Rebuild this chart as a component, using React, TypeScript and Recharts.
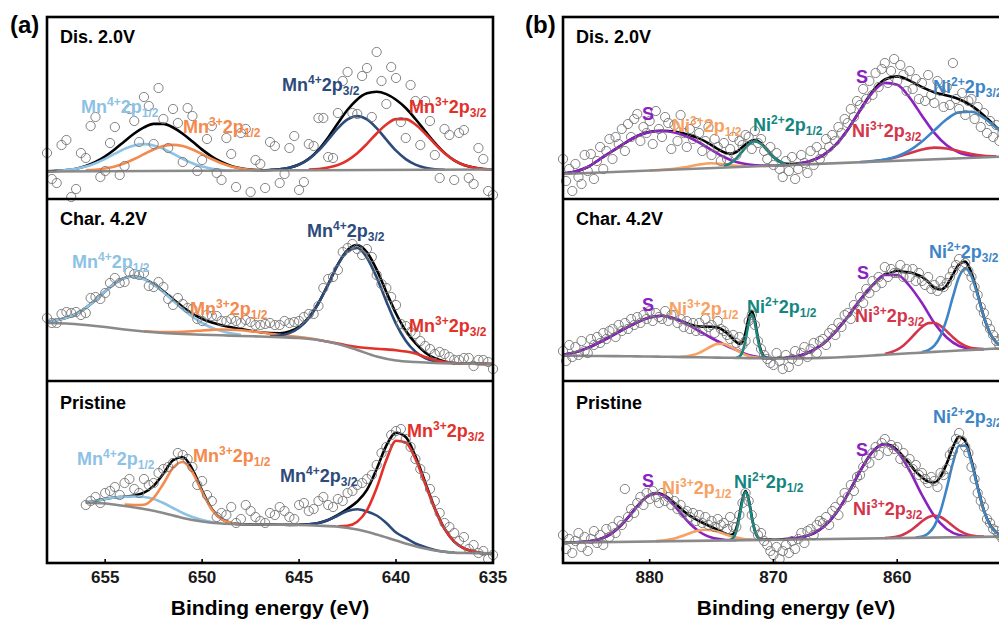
import React from 'react'
import { ComposedChart, Line, Scatter, XAxis, YAxis } from 'recharts'

type Pt = { x: number; y: number }
const seg = (from: number, step: number, ys: number[]): Pt[] =>
  ys.map((y, i) => ({ x: Math.round((from - i * step) * 100) / 100, y }))

// ---------- (a) Mn 2p ----------
const mnTicks = [655, 650, 645, 640, 635]

// Dis. 2.0V
const mnDisScanA = [46, 16, 59, 10, 41, 82, 28, 72, 33, 78, 102, 55, 80, 90, 37, 83, 39, 73, 19, 45, 66, 7, 35, 57, 16, 51, 9, 55, 81, 42, 86, 127, 85, 131, 147, 95, 121, 61, 98, 98, 44, 70, 19, 69, 15, 40, 4]
const mnDisScanB = [20, 54, 2, 46, 73, 22, 56, 24, 90, 57, 93, 111, 51, 76, 91, 28, 60, 26, 61, 12, 70, 39, 11, 53, 25, 63, 17, 53, 81, 41, 118, 86, 123, 82, 118, 132, 77, 114, 54, 78, 21, 64, 66, 21, 51, 8]
const mnDisEnv = [27.7, 28.1, 28.9, 30.3, 33.0, 37.0, 42.7, 49.8, 57.8, 65.5, 71.6, 75.1, 75.1, 71.5, 65.3, 57.5, 49.4, 42.5, 37.0, 33.1, 30.7, 29.4, 28.8, 29.0, 29.7, 31.3, 34.5, 40.2, 49.2, 61.6, 75.7, 89.2, 99.6, 105.7, 107.3, 104.9, 99.3, 91.0, 80.0, 67.9, 56.1, 46.1, 38.7, 34.0, 31.4, 30.0, 29.4]
const mnDisBase = [27.5, 29.5]
const mnDis4p12 = [28.0, 29.0, 30.3, 32.4, 35.8, 40.2, 45.3, 50.1, 53.6, 54.9, 53.6, 50.1, 45.3, 40.2, 35.8, 32.4, 30.3, 29.0, 28.0]
const mnDis3p12 = [28.6, 29.2, 30.5, 32.6, 35.8, 40, 44.8, 49.5, 52.9, 54.1, 52.9, 49.5, 44.8, 40, 35.8, 32.6, 30.5, 29.2, 28.6]
const mnDis4p32 = [29.2, 29.8, 31.3, 34.4, 39.9, 48.3, 59.3, 70.8, 79.6, 82.9, 79.6, 70.8, 59.3, 48.3, 39.9, 34.4, 31.3, 29.8, 29.2]
const mnDis3p32 = [29.4, 30.0, 31.4, 34.0, 38.7, 45.8, 55.2, 65.5, 74.5, 79.9, 79.9, 74.5, 65.5, 55.2, 45.8, 38.7, 34.0, 31.4, 30.0, 29.4]

// Char. 4.2V
const mnChaScanA = [63, 58, 69, 69, 68, 84, 88, 103, 99, 107, 108, 94, 94, 76, 77, 72, 60, 65, 60, 62, 58, 59, 56, 58, 56, 58, 60, 67, 75, 102, 111, 133, 132, 132, 106, 93, 76, 55, 47, 35, 27, 27, 21, 23, 15, 21, 12]
const mnChaScanB = [58, 67, 68, 66, 83, 82, 98, 98, 109, 106, 95, 99, 82, 83, 73, 62, 66, 65, 60, 60, 61, 56, 57, 56, 60, 59, 64, 67, 93, 104, 129, 137, 126, 124, 97, 84, 57, 49, 40, 32, 29, 24, 21, 23, 21, 19]
const mnChaEnv = [59.3, 60.7, 63.2, 67.1, 73.1, 80.9, 89.7, 97.6, 103.1, 104.5, 102.1, 96.9, 89.7, 81.8, 74.0, 67.4, 62.2, 58.4, 55.8, 53.7, 52.0, 50.3, 48.7, 47.9, 47.8, 49.4, 54.2, 63.4, 78.0, 96.7, 116.6, 131.2, 136.0, 128.7, 111.4, 89.0, 67.5, 50.2, 37.8, 28.5, 22.7, 19.6, 18.0, 17.5, 17.2, 17.1, 17.0]
const mnChaBase = [58, 57.5, 56, 54, 51.5, 49.5, 48, 47, 46.3, 45.7, 45, 44.5, 43.8, 43, 41, 37, 31, 24.5, 20.5, 19, 18, 17.5, 17.2, 17]
const mnCha4p12 = [59.3, 60.7, 63.2, 67.1, 73.1, 80.9, 89.7, 97.6, 103.1, 104.5, 101.8, 96.4, 88.8, 80.3, 71.7, 64.2, 58.0, 53.3, 50.0, 47.7, 46.2]
const mnCha3p12 = [49.8, 49.2, 48.9, 49.0, 49.3, 49.8, 50.5, 51.1, 51.5, 51.3, 50.8, 49.8, 48.7, 47.3, 46.1, 44.9, 43.9, 42.7, 41.3]
const mnCha4p32 = [44.7, 45.5, 47.9, 53.3, 62.9, 77.7, 96.6, 116.1, 129.9, 133, 123.3, 103.6, 79.6, 57.2, 40.3, 29.3, 23.0, 19.7, 18.3]
const mnCha3p32 = [41, 39.3, 37.5, 35.5, 34, 33, 32.3, 31.6, 30.8, 29.5, 27.5, 24, 21, 19, 18, 17.5, 17.2, 17.1, 17]

// Pristine
const mnPriScanA = [58, 66, 70, 76, 80, 74, 84, 80, 94, 100, 108, 96, 82, 62, 50, 56, 44, 52, 42, 50, 56, 46, 58, 52, 62, 58, 64, 70, 78, 84, 98, 116, 132, 124, 104, 86, 62, 40, 30, 26, 18, 12, 8]
const mnPriScanB = [62, 60, 72, 68, 84, 70, 78, 90, 96, 110, 104, 78, 68, 46, 48, 40, 58, 46, 40, 48, 52, 44, 60, 54, 66, 56, 62, 72, 80, 88, 110, 128, 134, 116, 94, 74, 50, 36, 22, 14, 10, 4]
const mnPriEnv = [60.5, 62, 64, 65.5, 66.3, 67.5, 70.3, 77.1, 89.3, 102.7, 106, 93.7, 72.3, 54.1, 44.0, 40.1, 38.8, 38.6, 38.5, 38.4, 38.3, 38.1, 38.2, 38.6, 40.0, 43.0, 48.0, 54.2, 61.5, 73.1, 94.0, 117.4, 130.3, 126.1, 106.7, 80.9, 54.6, 34.3, 21.4, 14.6, 11.5, 9.8, 9.7]
const mnPriBase = [60.3, 59.5, 57, 54, 50, 45, 41.5, 39.5, 38.8, 38.5, 38.3, 38, 37.3, 36.3, 33.5, 28.5, 22.5, 16.8, 12.5, 10.4, 9.9, 9.7]
const mnPri4p12 = [60.5, 62, 64, 65.5, 66.3, 66.5, 66, 64, 60, 55, 50, 46, 43, 41, 39.7]
const mnPri3p12 = [58.5, 58, 58.3, 65.2, 79.3, 95.2, 101, 90.8, 70.8, 53.5, 43.8, 40.1, 38.8]
const mnPri4p32 = [38.2, 38.6, 40, 43, 47.5, 52, 53.7, 51.5, 47.5, 40, 30.5, 25, 19.5, 16, 13, 11.3, 10.5]
const mnPri3p32 = [36.8, 37.3, 41.3, 52.8, 75.0, 102.9, 122.3, 120.6, 104.0, 79.3, 54.1, 34.2, 21.4, 14.6, 11.5, 9.8]

// ---------- (b) Ni 2p ----------
const niTicks = [880, 870, 860]

// Dis. 2.0V
const niDisScan = [40, 18, 30, 8, 35, 22, 15, 44, 28, 45, 20, 38, 52, 30, 48, 60, 40, 62, 55, 70, 48, 75, 62, 80, 85, 58, 72, 66, 78, 55, 88, 70, 62, 82, 76, 50, 74, 58, 84, 66, 52, 70, 60, 76, 66, 48, 58, 72, 44, 60, 52, 38, 56, 40, 50, 62, 44, 58, 54, 64, 62, 50, 68, 56, 60, 48, 40, 52, 34, 46, 30, 22, 38, 28, 42, 20, 30, 44, 36, 26, 48, 34, 52, 40, 46, 60, 52, 64, 58, 72, 66, 80, 76, 90, 82, 98, 94, 110, 100, 118, 104, 126, 112, 130, 136, 116, 128, 140, 118, 134, 124, 108, 128, 110, 120, 100, 116, 98, 124, 104, 96, 118, 108, 92, 112, 94, 136, 100, 90, 106, 84, 98, 100, 80, 92, 72, 86, 66, 78, 62, 74, 58, 66, 52, 64]
const niDisEnvA = [25.5, 27.5, 32, 40, 48, 56, 63, 67.1, 68.3, 67.4, 64.6, 60.6, 53.9]
const niDisEnvB = [50.0, 46.7, 45.3, 47.0, 51.9, 56.9, 58.9, 55.7, 49.1, 42.2, 37.5, 35.1, 35.0]
const niDisEnvC = [35.4, 38.1, 43.7, 53.8, 69.3, 88.7, 107.4, 119.5, 122.6, 118.4, 111.9, 106.8, 103.5, 99.7, 93.3, 83.5, 71.9, 60.9]
const niDisBase = [25, 42.6]
const niDisSat1 = [25.5, 27.5, 32, 40, 48, 56, 63, 67, 68, 66.5, 62.5, 56.5, 49, 42, 37, 34.5, 33.5, 33.5, 33.8]
const niDis3p12 = [28.5, 29.2, 30.3, 32, 34.5, 35.8, 34.8, 33.2, 32.6]
const niDis2p12 = [32.7, 35.5, 40.6, 47.7, 54.6, 57.6, 55.0, 48.7, 42.0, 37.3, 35.1]
const niDisSat2 = [35.4, 38.1, 43.7, 53.8, 69.3, 88.5, 106.3, 116.1, 114.2, 101.4, 83.3, 66.1, 53.7, 46.5, 43.4, 42.4]
const niDis3p32 = [37.8, 39.3, 42.0, 45.8, 49.5, 51.4, 50.5, 47.8, 45.0, 43.3, 42.7]
const niDis2p32 = [37.0, 37.9, 39.5, 42.8, 48.6, 57.5, 68.7, 79.7, 86.8, 87.3, 81.2, 71.2, 60.9]

// Char. 4.2V
const niChaScan = [30, 20, 36, 24, 34, 26, 40, 30, 28, 42, 36, 44, 38, 48, 42, 50, 52, 44, 56, 50, 58, 52, 62, 56, 64, 58, 66, 62, 70, 60, 68, 64, 62, 70, 60, 66, 66, 58, 62, 54, 60, 52, 58, 50, 58, 50, 62, 54, 56, 48, 60, 52, 50, 46, 42, 46, 38, 44, 36, 40, 60, 66, 56, 40, 32, 26, 22, 18, 16, 28, 20, 12, 26, 14, 22, 30, 20, 28, 34, 24, 32, 38, 28, 40, 42, 36, 48, 52, 46, 58, 54, 66, 68, 62, 76, 72, 84, 78, 92, 88, 100, 94, 104, 98, 114, 104, 112, 108, 108, 116, 104, 112, 104, 112, 100, 108, 100, 96, 104, 92, 96, 90, 100, 94, 98, 104, 110, 116, 122, 114, 118, 110, 104, 94, 86, 74, 68, 58, 52, 46, 40, 36, 44, 38, 36]
const niChaEnvA = [26.3, 28.7, 33.1, 39, 45.6, 52.5, 58.8, 63.5, 65.3, 62.5, 57.8, 54.4, 54.3]
const niChaEnvB = [53.4, 52.1, 50.2, 47.9, 45.0, 42.0, 39.0, 37.1, 39.1, 48.7, 63.1, 70.2, 60.4, 42.9, 30.0, 24.6, 23.1]
const niChaEnvC = [22.8, 23.0, 23.3, 24.1, 24.9, 27.0, 29.5, 33.0, 37.0, 42.8, 49.0, 56.4, 64.0, 72.5, 81.0, 88.7, 95.8, 101.8, 106.8, 108.3, 110.3, 109.1, 108.6, 106.8, 104.1, 99.2, 93.3, 91.5, 95.7, 106.5, 116.8, 119.4, 108.0, 86.9, 64.2, 47.7, 38.6, 34.7, 33.5]
const niChaBase = [25.3, 25.2, 25.1, 25, 24.9, 24.8, 24.6, 24.5, 24.3, 24.1, 23.9, 23.7, 23.5, 23.3, 23.1, 22.9, 22.7, 22.5, 22.5, 22.6, 22.8, 23.1, 23.5, 24.1, 24.8, 25.5, 26.3, 27, 27.7, 28.4, 29.1, 29.8, 30.5, 31.1, 31.8, 32.4, 33]
const niChaSat1 = [26.3, 28.7, 33.1, 39, 45.6, 52.5, 58.8, 63.5, 65.3, 62.5, 57, 50, 43, 36.5, 31, 26, 23.5, 22.6]
const niCha3p12 = [24.1, 24.7, 25.9, 28.1, 31.4, 34.8, 37.1, 37.0, 34.5, 30.9, 27.4, 25.0, 23.6, 23.0]
const niCha2p12 = [23.3, 24.3, 29.2, 41.3, 57.9, 66.4, 57.8, 41.1, 28.9, 24.0, 22.8]
const niChaSat2 = [23.3, 24.9, 29.5, 37, 49, 64, 81, 95.6, 106, 106, 95, 78, 58, 43.5, 35, 32.3, 31.9]
const niCha3p32 = [27.1, 28.7, 31.3, 35.5, 41.3, 48.0, 54.0, 57.9, 58.2, 55.1, 49.7, 43.8, 38.6, 35.1, 33.1, 32.3, 31.8]
const niCha2p32 = [28.9, 30.8, 35.3, 45.1, 62.1, 84.3, 104.2, 112.5, 104.8, 85.6, 64.1, 47.7, 38.6, 34.7, 33.5]

// Pristine
const niPriScan = [28, 14, 24, 10, 22, 30, 16, 26, 12, 24, 32, 20, 28, 18, 34, 26, 36, 30, 42, 38, 74, 46, 54, 50, 60, 66, 58, 70, 64, 72, 66, 60, 70, 62, 66, 58, 62, 54, 58, 50, 52, 46, 50, 42, 48, 40, 46, 38, 42, 36, 44, 38, 40, 34, 46, 36, 36, 48, 60, 70, 62, 48, 34, 28, 30, 22, 18, 12, 8, 16, 4, 12, 18, 10, 22, 14, 24, 30, 20, 32, 34, 28, 38, 42, 40, 46, 38, 52, 56, 48, 62, 70, 66, 78, 72, 86, 88, 96, 104, 100, 110, 116, 108, 120, 124, 112, 118, 114, 116, 104, 110, 100, 104, 94, 98, 88, 90, 84, 80, 86, 82, 76, 90, 88, 94, 108, 112, 124, 130, 122, 116, 110, 96, 84, 70, 62, 56, 44, 40, 34, 32, 28, 24, 30, 26]
const niPriEnvA = [20.3, 20.5, 20.7, 21.0, 21.4, 22.4, 24.0, 26.5, 30.3, 35.5, 41.8, 49.2, 56.8, 63.4, 67.9, 69.9, 68.8, 65.3, 60.0, 54.4, 49.4, 45.3, 41.9, 38.9, 36.0, 33.0, 30.0]
const niPriEnvB = [28.8, 28.0, 29.0, 34.6, 47.8, 64.2, 72.0, 63.4, 46.3, 32.3, 25.7, 23.6, 23.3]
const niPriEnvC = [23.4, 23.3, 23.5, 23.9, 24.4, 25.2, 26.5, 28.4, 31.4, 35.7, 41.4, 48.9, 58.1, 68.7, 80.2, 91.8, 102.4, 111.1, 116.9, 119.0, 117.6, 112.9, 106.4, 99.2, 91.3, 85.6, 81.4, 80.5, 86.4, 99.5, 115.9, 126.1, 121.9, 102.3, 76.0, 52.7, 38.3, 30.7, 27.6, 26.8]
const niPriBase = [20.3, 26.5]
const niPriSat1 = [20.7, 21.0, 21.4, 22.4, 24.0, 26.5, 30.3, 35.5, 41.8, 49.2, 56.8, 63.4, 67.9, 69.6, 68.1, 63.8, 57.3, 49.9, 42.7, 36.5, 31.5, 27.9, 25.6, 24.2, 23.3, 23.0, 22.9]
const niPri3p12 = [21.9, 22.4, 23.3, 24.5, 26.4, 28.7, 30.9, 32.6, 33.3, 32.8, 31.3, 29.2, 27.1, 25.4, 24.3, 23.6, 23.3]
const niPri2p12 = [23.1, 25.1, 31.7, 45.6, 62.6, 70.9, 62.7, 45.8, 32.0, 25.5, 23.6]
const niPriSat2 = [23.9, 25.2, 28.4, 35.7, 48.9, 68.7, 91.8, 111.1, 118.8, 111.4, 92.5, 68, 47, 34, 28, 26.5, 26.2]
const niPri3p32 = [25.0, 25.5, 26.4, 28.5, 31.8, 36.5, 41.7, 45.8, 47.5, 46.0, 42.0, 37.0, 32.5, 29.4, 27.5, 26.7, 26.3]
const niPri2p32 = [25.5, 26.5, 29.5, 37.0, 52.0, 74.7, 100.0, 117.2, 117.3, 100.3, 75.2, 52.5, 37.7, 30.4, 27.6, 26.8]

const C = {
  env: '#000000', base: '#8a8a8a',
  mn4a: '#8ec2e4', mn3a: '#f48a4e', mn4b: '#2c4b7b', mn3b: '#e1312a',
  sat: '#8b21c1', ni3a: '#f7a162', ni2a: '#13877f', ni3b: '#d3354a', ni2b: '#3e85c7',
}
const FONT = 'Arial, "Liberation Sans", Helvetica, sans-serif'
const PANEL_H = 182

type Curve = { data: Pt[]; color: string }

const mnPanels: { pts: Pt[]; curves: Curve[] }[] = [
  {
    pts: [...seg(658, 0.5, mnDisScanA), ...seg(657.75, 0.5, mnDisScanB)],
    curves: [
      { data: seg(658, 0.5, mnDisEnv), color: C.env },
      { data: seg(657.5, 0.5, mnDis4p12), color: C.mn4a },
      { data: seg(656, 0.5, mnDis3p12), color: C.mn3a },
      { data: seg(646.5, 0.5, mnDis4p32), color: C.mn4b },
      { data: seg(644.5, 0.5, mnDis3p32), color: C.mn3b },
      { data: seg(658, 23, mnDisBase), color: C.base },
    ],
  },
  {
    pts: [...seg(658, 0.5, mnChaScanA), ...seg(657.75, 0.5, mnChaScanB)],
    curves: [
      { data: seg(658, 0.5, mnChaEnv), color: C.env },
      { data: seg(658, 0.5, mnCha4p12), color: C.mn4a },
      { data: seg(653, 0.5, mnCha3p12), color: C.mn3a },
      { data: seg(646.5, 0.5, mnCha4p32), color: C.mn4b },
      { data: seg(644, 0.5, mnCha3p32), color: C.mn3b },
      { data: seg(658, 1, mnChaBase), color: C.base },
    ],
  },
  {
    pts: [...seg(656, 0.5, mnPriScanA), ...seg(655.75, 0.5, mnPriScanB)],
    curves: [
      { data: seg(656, 0.5, mnPriEnv), color: C.env },
      { data: seg(656, 0.5, mnPri4p12), color: C.mn4a },
      { data: seg(654, 0.5, mnPri3p12), color: C.mn3a },
      { data: seg(645, 0.5, mnPri4p32), color: C.mn4b },
      { data: seg(643, 0.5, mnPri3p32), color: C.mn3b },
      { data: seg(656, 1, mnPriBase), color: C.base },
    ],
  },
]

const niPanels: { pts: Pt[]; curves: Curve[] }[] = [
  {
    pts: seg(887, 0.25, niDisScan),
    curves: [
      { data: [...seg(887, 1, niDisEnvA), ...seg(874.5, 0.5, niDisEnvB), ...seg(868, 1, niDisEnvC)], color: C.env },
      { data: seg(887, 1, niDisSat1), color: C.sat },
      { data: seg(880, 1, niDis3p12), color: C.ni3a },
      { data: seg(874, 0.5, niDis2p12), color: C.ni2a },
      { data: seg(868, 1, niDisSat2), color: C.sat },
      { data: seg(862, 1, niDis3p32), color: C.ni3b },
      { data: seg(863, 1, niDis2p32), color: C.ni2b },
      { data: seg(887, 36, niDisBase), color: C.base },
    ],
  },
  {
    pts: seg(887, 0.25, niChaScan),
    curves: [
      { data: [...seg(887, 1, niChaEnvA), ...seg(874.5, 0.25, niChaEnvB), ...seg(870, 0.5, niChaEnvC)], color: C.env },
      { data: seg(887, 1, niChaSat1), color: C.sat },
      { data: seg(877.5, 0.5, niCha3p12), color: C.ni3a },
      { data: seg(873, 0.25, niCha2p12), color: C.ni2a },
      { data: seg(869, 1, niChaSat2), color: C.sat },
      { data: seg(861, 0.5, niCha3p32), color: C.ni3b },
      { data: seg(858, 0.5, niCha2p32), color: C.ni2b },
      { data: seg(887, 1, niChaBase), color: C.base },
    ],
  },
  {
    pts: seg(887, 0.25, niPriScan),
    curves: [
      { data: [...seg(887, 0.5, niPriEnvA), ...seg(873.75, 0.25, niPriEnvB), ...seg(870.5, 0.5, niPriEnvC)], color: C.env },
      { data: seg(886, 0.5, niPriSat1), color: C.sat },
      { data: seg(879.5, 0.5, niPri3p12), color: C.ni3a },
      { data: seg(873.5, 0.25, niPri2p12), color: C.ni2a },
      { data: seg(869, 1, niPriSat2), color: C.sat },
      { data: seg(861, 0.5, niPri3p32), color: C.ni3b },
      { data: seg(858.5, 0.5, niPri2p32), color: C.ni2b },
      { data: seg(887, 36, niPriBase), color: C.base },
    ],
  },
]

const Ring = (p: any) => (
  <circle cx={p.cx} cy={p.cy} r={4.6} fill="none" stroke="#767676" strokeWidth={0.9} />
)

const AxisTick = (p: any) => {
  const { x, y, payload, showLabel } = p
  return (
    <g>
      <line x1={x} x2={x} y1={y} y2={y - 4} stroke="#000" strokeWidth={1.6} />
      {showLabel && (
        <text x={x} y={y + 20} textAnchor="middle" fontSize={17} fontWeight="bold" fill="#1a1a1a" fontFamily={FONT}>
          {payload.value}
        </text>
      )}
    </g>
  )
}

function Panel(props: {
  left: number; top: number; width: number; domain: [number, number]; ticks: number[]
  pts: Pt[]; curves: Curve[]; last: boolean
}) {
  const { left, top, width, domain, ticks, pts, curves, last } = props
  return (
    <div style={{ position: 'absolute', left, top }}>
      <ComposedChart width={width} height={last ? PANEL_H + 30 : PANEL_H} margin={{ top: 0, right: 0, bottom: 0, left: 0 }}>
        <XAxis
          type="number" dataKey="x" domain={domain} reversed ticks={ticks} interval={0}
          axisLine={false} tickLine={false} tickSize={0} tickMargin={0} height={last ? 30 : 0}
          tick={(p: any) => <AxisTick {...p} showLabel={last} />}
        />
        <YAxis type="number" dataKey="y" domain={[0, PANEL_H]} hide />
        <Scatter data={pts} shape={Ring} isAnimationActive={false} />
        {curves.map((c, i) => (
          <Line
            key={i} data={c.data} dataKey="y" type="monotone" stroke={c.color} strokeWidth={2.6}
            dot={false} activeDot={false} isAnimationActive={false}
          />
        ))}
      </ComposedChart>
    </div>
  )
}

type Tag = { x: number; y: number; color: string; el?: string; ox?: string; orb?: string; text?: string }

const PeakTag = ({ t }: { t: Tag }) => (
  <text x={t.x} y={t.y} fill={t.color} fontSize={18} fontWeight="bold" fontFamily={FONT}>
    {t.text ?? (
      <>
        {t.el}
        <tspan dy={-7} fontSize={12}>{t.ox}</tspan>
        <tspan dy={7}>2p</tspan>
        <tspan dy={4} fontSize={12}>{t.orb}</tspan>
      </>
    )}
  </text>
)

const tags: Tag[] = [
  // (a)
  { x: 81, y: 113, color: C.mn4a, el: 'Mn', ox: '4+', orb: '1/2' },
  { x: 183, y: 133, color: C.mn3a, el: 'Mn', ox: '3+', orb: '1/2' },
  { x: 282, y: 91, color: C.mn4b, el: 'Mn', ox: '4+', orb: '3/2' },
  { x: 409, y: 113, color: C.mn3b, el: 'Mn', ox: '3+', orb: '3/2' },
  { x: 72, y: 268, color: C.mn4a, el: 'Mn', ox: '4+', orb: '1/2' },
  { x: 190, y: 315, color: C.mn3a, el: 'Mn', ox: '3+', orb: '1/2' },
  { x: 307, y: 237, color: C.mn4b, el: 'Mn', ox: '4+', orb: '3/2' },
  { x: 409, y: 332, color: C.mn3b, el: 'Mn', ox: '3+', orb: '3/2' },
  { x: 77, y: 465, color: C.mn4a, el: 'Mn', ox: '4+', orb: '1/2' },
  { x: 193, y: 462, color: C.mn3a, el: 'Mn', ox: '3+', orb: '1/2' },
  { x: 280, y: 482, color: C.mn4b, el: 'Mn', ox: '4+', orb: '3/2' },
  { x: 407, y: 437, color: C.mn3b, el: 'Mn', ox: '3+', orb: '3/2' },
  // (b)
  { x: 642, y: 120, color: C.sat, text: 'S' },
  { x: 672, y: 132, color: C.ni3a, el: 'Ni', ox: '3+', orb: '1/2' },
  { x: 753, y: 131, color: C.ni2a, el: 'Ni', ox: '2+', orb: '1/2' },
  { x: 856, y: 83, color: C.sat, text: 'S' },
  { x: 852, y: 137, color: C.ni3b, el: 'Ni', ox: '3+', orb: '3/2' },
  { x: 933, y: 93, color: C.ni2b, el: 'Ni', ox: '2+', orb: '3/2' },
  { x: 642, y: 311, color: C.sat, text: 'S' },
  { x: 669, y: 315, color: C.ni3a, el: 'Ni', ox: '3+', orb: '1/2' },
  { x: 747, y: 313, color: C.ni2a, el: 'Ni', ox: '2+', orb: '1/2' },
  { x: 857, y: 279, color: C.sat, text: 'S' },
  { x: 855, y: 322, color: C.ni3b, el: 'Ni', ox: '3+', orb: '3/2' },
  { x: 929, y: 258, color: C.ni2b, el: 'Ni', ox: '2+', orb: '3/2' },
  { x: 642, y: 487, color: C.sat, text: 'S' },
  { x: 662, y: 494, color: C.ni3a, el: 'Ni', ox: '3+', orb: '1/2' },
  { x: 734, y: 488, color: C.ni2a, el: 'Ni', ox: '2+', orb: '1/2' },
  { x: 856, y: 456, color: C.sat, text: 'S' },
  { x: 853, y: 515, color: C.ni3b, el: 'Ni', ox: '3+', orb: '3/2' },
  { x: 933, y: 423, color: C.ni2b, el: 'Ni', ox: '2+', orb: '3/2' },
]

const titles = ['Dis. 2.0V', 'Char. 4.2V', 'Pristine']
const titleY = [43, 225, 409]
const panelTops = [17, 199, 381]

export default function App() {
  return (
    <div style={{ position: 'absolute', left: 0, top: 0, width: 999, height: 623, overflow: 'hidden', background: '#fff', fontFamily: FONT }}>
      <style>{'.recharts-surface{overflow:visible}'}</style>
      {mnPanels.map((p, i) => (
        <Panel key={'a' + i} left={47} top={panelTops[i]} width={446} domain={[635, 658]} ticks={mnTicks} pts={p.pts} curves={p.curves} last={i === 2} />
      ))}
      {niPanels.map((p, i) => (
        <Panel key={'b' + i} left={563} top={panelTops[i]} width={458} domain={[850, 887]} ticks={niTicks} pts={p.pts} curves={p.curves} last={i === 2} />
      ))}
      <svg width={999} height={623} style={{ position: 'absolute', left: 0, top: 0, pointerEvents: 'none' }}>
        <g fill="none" stroke="#000" strokeWidth={2.6}>
          <rect x={47} y={17} width={446} height={546} />
          <line x1={47} x2={493} y1={199} y2={199} />
          <line x1={47} x2={493} y1={381} y2={381} />
          <rect x={563} y={17} width={500} height={546} />
          <line x1={563} x2={1063} y1={199} y2={199} />
          <line x1={563} x2={1063} y1={381} y2={381} />
        </g>
        <text x={10} y={33} fontSize={24} fontWeight="bold" fontFamily={FONT}>(a)</text>
        <text x={525} y={33} fontSize={24} fontWeight="bold" fontFamily={FONT}>(b)</text>
        {titles.map((t, i) => (
          <React.Fragment key={t}>
            <text x={60} y={titleY[i]} fontSize={18} fontWeight="bold" fontFamily={FONT}>{t}</text>
            <text x={576} y={titleY[i]} fontSize={18} fontWeight="bold" fontFamily={FONT}>{t}</text>
          </React.Fragment>
        ))}
        {tags.map((t, i) => <PeakTag key={i} t={t} />)}
        <text x={270} y={615} textAnchor="middle" fontSize={21} fontWeight="bold" fontFamily={FONT}>Binding energy (eV)</text>
        <text x={796} y={615} textAnchor="middle" fontSize={21} fontWeight="bold" fontFamily={FONT}>Binding energy (eV)</text>
      </svg>
    </div>
  )
}
